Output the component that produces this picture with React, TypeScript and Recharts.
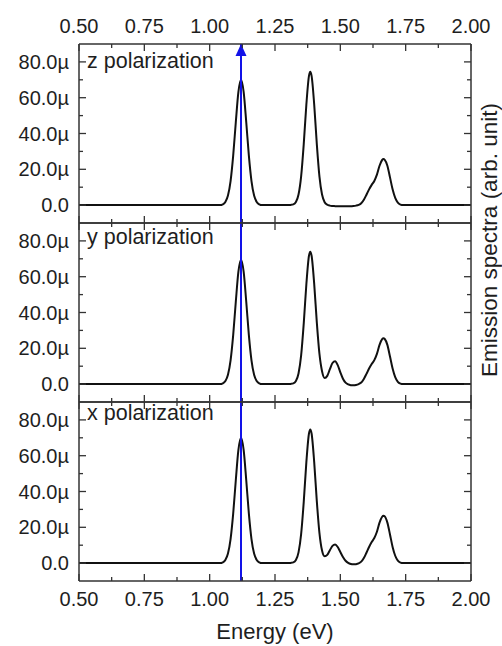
import { LineChart, Line, XAxis, YAxis, ReferenceLine, ReferenceDot } from "recharts";

// photon energy grid (eV), shared by the three spectra
const energy = [
  0.5, 0.8, 1.0, 1.04, 1.05, 1.06, 1.07, 1.08, 1.09, 1.1, 1.11, 1.12, 1.13, 1.14, 1.15, 1.16,
  1.17, 1.18, 1.19, 1.2, 1.25, 1.3, 1.31, 1.32, 1.33, 1.34, 1.35, 1.36, 1.37, 1.38, 1.385, 1.39,
  1.4, 1.41, 1.42, 1.43, 1.44, 1.45, 1.46, 1.47, 1.48, 1.49, 1.5, 1.51, 1.52, 1.53, 1.54, 1.55,
  1.56, 1.57, 1.58, 1.59, 1.6, 1.61, 1.62, 1.63, 1.64, 1.65, 1.66, 1.665, 1.67, 1.68, 1.69, 1.7,
  1.71, 1.72, 1.73, 1.74, 1.75, 1.8, 2.0,
];

// emission intensity in µ (arb. unit)
const zPolarization = [
  0, 0, 0, 0, 0.4, 1.7, 5.3, 13.4, 27.6, 46.3, 63.2, 70, 63.2, 46.3, 27.6, 13.4,
  5.3, 1.7, 0.4, 0, 0, 0, 0.1, 0.4, 1.7, 5.9, 16.1, 34.1, 56.2, 72.2, 74.5, 72.2,
  56.2, 34.1, 16.1, 5.9, 1.6, 0.2, -0.3, -0.5, -0.6, -0.7, -0.7, -0.7, -0.7, -0.6, -0.6, -0.5,
  -0.3, 0.1, 1.0, 3.0, 5.8, 8.8, 11.3, 13.5, 17.0, 22.0, 25.2, 25.7, 25.3, 22.0, 15.5, 8.8,
  4.0, 1.4, 0.3, 0, 0, 0, 0,
];

const yPolarization = [
  0, 0, 0, 0, 0.4, 1.7, 5.2, 13.3, 27.4, 46.0, 62.8, 69.5, 62.8, 46.0, 27.4, 13.3,
  5.2, 1.7, 0.4, 0, 0, 0, 0.1, 0.4, 1.7, 5.9, 16.0, 33.9, 55.8, 71.7, 74.0, 71.7,
  56.0, 34.5, 17.0, 7.2, 3.4, 4.6, 8.3, 11.8, 12.8, 10.6, 6.6, 3.0, 0.8, -0.2, -0.6, -0.7,
  -0.5, 0.0, 0.9, 2.9, 5.7, 8.7, 11.2, 13.4, 16.9, 21.9, 25.1, 25.6, 25.2, 21.9, 15.4, 8.7,
  3.9, 1.3, 0.3, 0, 0, 0, 0,
];

const xPolarization = [
  0, 0, 0, 0, 0.4, 1.7, 5.3, 13.4, 27.6, 46.3, 63.2, 70, 63.2, 46.3, 27.6, 13.4,
  5.3, 1.7, 0.4, 0, 0, 0, 0.1, 0.4, 1.7, 6.0, 16.2, 34.2, 56.4, 72.4, 74.7, 72.4,
  56.4, 34.6, 16.9, 7.0, 3.8, 4.6, 7.2, 9.6, 10.4, 9.0, 6.2, 3.4, 1.3, 0.1, -0.5, -0.7,
  -0.6, -0.2, 0.8, 2.8, 5.8, 9.0, 11.8, 14.0, 17.5, 22.6, 25.9, 26.5, 26.1, 22.6, 16.0, 9.0,
  4.1, 1.4, 0.3, 0, 0, 0, 0,
];

const energyTicks = [0.5, 0.625, 0.75, 0.875, 1.0, 1.125, 1.25, 1.375, 1.5, 1.625, 1.75, 1.875, 2.0];
const intensityTicks = [0, 10, 20, 30, 40, 50, 60, 70, 80];
const excitationEnergy = 1.12;

const FONT = "'Liberation Sans', Arial, Helvetica, sans-serif";
const INK = "#1e1e1e";
const FRAME = "#333";
const BLUE = "#1212e8";

const W = 502;
// plot box: x 79..471, panels 179 px tall each

type Side = "top" | "bottom" | "left" | "right";

function makeTick(side: Side, labelled: boolean) {
  return (props: any) => {
    const { x, y, index, payload } = props;
    const major = index % 2 === 0;
    const len = major ? 7 : 4;
    const v = payload.value as number;
    let mark;
    let text = null;
    const txt = { fill: INK, fontFamily: FONT, fontSize: 20 };
    if (side === "top") {
      mark = <line x1={x} y1={y} x2={x} y2={y + len} stroke={FRAME} strokeWidth={1.3} />;
      if (labelled && major)
        text = <text x={x} y={y - 11} textAnchor="middle" {...txt}>{v.toFixed(2)}</text>;
    } else if (side === "bottom") {
      mark = <line x1={x} y1={y} x2={x} y2={y - len} stroke={FRAME} strokeWidth={1.3} />;
      if (labelled && major)
        text = <text x={x} y={y + 25} textAnchor="middle" {...txt}>{v.toFixed(2)}</text>;
    } else if (side === "left") {
      mark = <line x1={x} y1={y} x2={x + len} y2={y} stroke={FRAME} strokeWidth={1.3} />;
      if (labelled && major)
        text = (
          <text x={x - 10} y={y + 7} textAnchor="end" {...txt}>
            {v === 0 ? "0.0" : `${v.toFixed(1)}µ`}
          </text>
        );
    } else {
      mark = <line x1={x} y1={y} x2={x - len} y2={y} stroke={FRAME} strokeWidth={1.3} />;
    }
    return (
      <g>
        {mark}
        {text}
      </g>
    );
  };
}

const arrowHead = (p: any) => (
  <polygon
    points={`${p.cx},${p.cy} ${p.cx - 5.5},${p.cy + 12} ${p.cx + 5.5},${p.cy + 12}`}
    fill={BLUE}
  />
);

interface PanelProps {
  values: number[];
  name: string;
  nameDy: number;
  top: number;
  height: number;
  marginTop: number;
  marginBottom: number;
  topLabels?: boolean;
  bottomLabels?: boolean;
  arrow?: boolean;
}

function Panel({ values, name, nameDy, top, height, marginTop, marginBottom, topLabels, bottomLabels, arrow }: PanelProps) {
  const data = energy.map((e, i) => ({ e, v: values[i] }));
  const axisLine = { stroke: FRAME, strokeWidth: 1.5 };
  const common = {
    dataKey: "e",
    type: "number" as const,
    domain: [0.5, 2],
    ticks: energyTicks,
    interval: 0,
    height: 1,
    tickSize: 0,
    tickMargin: 0,
    tickLine: false,
    axisLine,
    allowDataOverflow: true,
  };
  const yCommon = {
    type: "number" as const,
    domain: [-10, 90],
    ticks: intensityTicks,
    interval: 0,
    width: 1,
    tickSize: 0,
    tickMargin: 0,
    tickLine: false,
    axisLine,
    allowDataOverflow: true,
  };
  return (
    <div style={{ position: "absolute", left: 0, top }}>
      <LineChart
        width={W}
        height={height}
        data={data}
        margin={{ top: marginTop, right: 30, bottom: marginBottom, left: 78 }}
      >
        <XAxis
          xAxisId="b"
          orientation="bottom"
          {...common}
          tick={makeTick("bottom", !!bottomLabels)}
          label={
            bottomLabels
              ? (p: any) => (
                  <text
                    x={p.viewBox.x + p.viewBox.width / 2}
                    y={p.viewBox.y + 58}
                    textAnchor="middle"
                    fill={INK}
                    fontFamily={FONT}
                    fontSize={22}
                  >
                    Energy (eV)
                  </text>
                )
              : undefined
          }
        />
        <XAxis xAxisId="t" orientation="top" {...common} tick={makeTick("top", !!topLabels)} />
        <YAxis
          yAxisId="l"
          orientation="left"
          {...yCommon}
          tick={makeTick("left", true)}
          label={(p: any) => (
            <text x={p.viewBox.x + 9} y={p.viewBox.y + nameDy} fill={INK} fontFamily={FONT} fontSize={21.5}>
              {name}
            </text>
          )}
        />
        <YAxis yAxisId="r" orientation="right" {...yCommon} tick={makeTick("right", false)} />
        <Line
          xAxisId="b"
          yAxisId="l"
          dataKey="v"
          type="monotone"
          stroke="#111"
          strokeWidth={2}
          dot={false}
          isAnimationActive={false}
        />
        <ReferenceLine xAxisId="b" yAxisId="l" x={excitationEnergy} stroke={BLUE} strokeWidth={2} />
        {arrow && (
          <ReferenceDot xAxisId="b" yAxisId="l" x={excitationEnergy} y={90} r={6} shape={arrowHead} />
        )}
      </LineChart>
    </div>
  );
}

export default function App() {
  return (
    <div
      style={{
        position: "absolute",
        left: 0,
        top: 0,
        width: W,
        height: 646,
        background: "#fff",
        overflow: "hidden",
        fontFamily: FONT,
      }}
    >
      <Panel values={zPolarization} name="z polarization" nameDy={23.5} top={0} height={224} marginTop={43} marginBottom={0} topLabels arrow />
      <Panel values={yPolarization} name="y polarization" nameDy={21} top={222} height={181} marginTop={0} marginBottom={0} />
      <Panel values={xPolarization} name="x polarization" nameDy={18} top={401} height={245} marginTop={0} marginBottom={64} bottomLabels />
      <div
        style={{
          position: "absolute",
          left: 490,
          top: 240,
          transform: "translate(-50%, -50%) rotate(-90deg)",
          whiteSpace: "nowrap",
          fontSize: 22.5,
          lineHeight: 1,
          color: INK,
        }}
      >
        Emission spectra (arb. unit)
      </div>
    </div>
  );
}
